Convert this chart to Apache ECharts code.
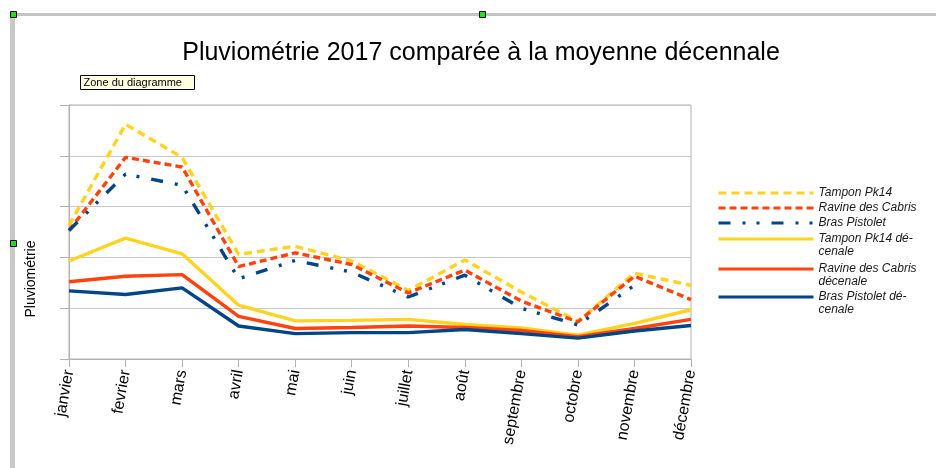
<!DOCTYPE html>
<html>
<head>
<meta charset="utf-8">
<script src="https://cdn.jsdelivr.net/npm/echarts@6/dist/echarts.min.js"></script>
<style>
html, body { margin: 0; padding: 0; background: #fff; }
#chart { width: 936px; height: 468px; }
</style>
</head>
<body>
<div id="chart"></div>
<script>
// mois
var months = ['janvier', 'fevrier', 'mars', 'avril', 'mai', 'juin', 'juillet', 'août', 'septembre', 'octobre', 'novembre', 'décembre'];

// pluviométrie 2017 (mm)
var tamponPk14 = [263, 462, 397, 206, 222, 193, 135, 195, 132, 74, 169, 145];
var ravineCabris = [253, 397, 378, 182, 209, 186, 130, 175, 114, 73, 163, 117];
var brasPistolet = [253, 364, 342, 158, 194, 171, 122, 165, 100, 67, 145, null];

// moyennes décennales
var tamponPk14Dec = [193, 238, 207, 106, 75, 76, 78, 68, 61, 47, 70, 97];
var ravineCabrisDec = [152, 163, 166, 84, 60, 62, 65, 62, 56, 44, 60, 78];
var brasPistoletDec = [134, 127, 140, 65, 50, 52, 52, 58, 50, 41, 55, 66];

var seriesNames = ['Tampon Pk14', 'Ravine des Cabris', 'Bras Pistolet',
    'Tampon Pk14 décenale', 'Ravine des Cabris décenale', 'Bras Pistolet décenale'];
var legendLabels = ['Tampon Pk14', 'Ravine des Cabris', 'Bras Pistolet',
    'Tampon Pk14 dé-\ncenale', 'Ravine des Cabris\ndécenale', 'Bras Pistolet dé-\ncenale'];

var YELLOW = '#ffd320', RED = '#ff420e', BLUE = '#004586';

var chart = echarts.init(document.getElementById('chart'), null, { renderer: 'canvas' });

function lineSeries(name, data, color, dash) {
    return {
        name: name,
        type: 'line',
        data: data,
        symbol: 'none',
        connectNulls: false,
        animation: false,
        lineStyle: { color: color, width: 3.4, type: dash || 'solid', cap: 'butt' },
        itemStyle: { color: color }
    };
}

// une légende par entrée, pour aligner le trait sur la première ligne du texte
var legendCenters = [193, 208, 223, 239, 269, 297];
var legends = seriesNames.map(function (name, i) {
    var twoLines = legendLabels[i].indexOf('\n') >= 0;
    return {
        data: [name],
        orient: 'vertical',
        left: 717,
        top: legendCenters[i] - (twoLines ? 18.75 : 6.25),
        padding: 0,
        itemWidth: 95,
        itemHeight: 10,
        itemGap: 0,
        selectedMode: false,
        itemStyle: { opacity: 0 },
        lineStyle: { width: 3 },
        formatter: function () {
            return twoLines ? '\n' + legendLabels[i] : legendLabels[i];
        },
        textStyle: {
            fontFamily: 'Liberation Sans',
            fontStyle: 'italic',
            fontSize: 12,
            lineHeight: 12.5,
            color: '#1a1a1a'
        }
    };
});

var option = {
    backgroundColor: '#fff',
    animation: false,
    title: {
        text: 'Pluviométrie 2017 comparée à la moyenne décennale',
        left: 476,
        top: 36,
        textAlign: 'center',
        textStyle: {
            fontFamily: 'Liberation Sans',
            fontWeight: 'normal',
            fontSize: 25,
            color: '#000'
        }
    },
    legend: legends,
    grid: {
        left: 69,
        right: 245,
        top: 105,
        bottom: 109,
        show: true,
        borderColor: '#b3b3b3',
        borderWidth: 1
    },
    xAxis: {
        type: 'category',
        data: months,
        boundaryGap: false,
        axisLine: { lineStyle: { color: '#b3b3b3', width: 1 } },
        axisTick: { show: true, alignWithLabel: true, length: 8, lineStyle: { color: '#b3b3b3' } },
        axisLabel: {
            rotate: 80,
            margin: 11,
            interval: 0,
            fontFamily: 'Liberation Sans',
            fontSize: 16,
            color: '#000'
        },
        splitLine: { show: false }
    },
    yAxis: {
        type: 'value',
        min: 0,
        max: 500,
        interval: 100,
        name: 'Pluviométrie',
        nameLocation: 'middle',
        nameRotate: 90,
        nameGap: 31,
        nameTextStyle: {
            fontFamily: 'Liberation Sans',
            fontSize: 14,
            color: '#000',
            padding: [0, 94, 0, 0]
        },
        axisLine: { show: true, lineStyle: { color: '#b3b3b3', width: 1 } },
        axisTick: { show: true, length: 9, lineStyle: { color: '#b3b3b3' } },
        axisLabel: { show: false },
        splitLine: { show: true, lineStyle: { color: '#c8c8c8', width: 1 } }
    },
    series: [
        lineSeries(seriesNames[0], tamponPk14, YELLOW, [8, 5]),
        lineSeries(seriesNames[1], ravineCabris, RED, [7, 4]),
        lineSeries(seriesNames[2], brasPistolet, BLUE, [12, 12, 3, 11, 3, 12]),
        lineSeries(seriesNames[3], tamponPk14Dec, YELLOW),
        lineSeries(seriesNames[4], ravineCabrisDec, RED),
        lineSeries(seriesNames[5], brasPistoletDec, BLUE)
    ],
    graphic: [
        // cadre de sélection de l'éditeur
        { type: 'rect', left: 10, top: 13, shape: { width: 926, height: 3 }, style: { fill: '#c4c4c4' }, silent: true },
        { type: 'rect', left: 10, top: 13, shape: { width: 5, height: 455 }, style: { fill: '#c8c8c8' }, silent: true },
        { type: 'rect', left: 10, top: 11, shape: { width: 6, height: 6 }, style: { fill: '#22dd22', stroke: '#000', lineWidth: 1 }, silent: true },
        { type: 'rect', left: 479, top: 11, shape: { width: 6, height: 6 }, style: { fill: '#22dd22', stroke: '#000', lineWidth: 1 }, silent: true },
        { type: 'rect', left: 10, top: 240, shape: { width: 6, height: 6 }, style: { fill: '#22dd22', stroke: '#000', lineWidth: 1 }, silent: true },
        // info-bulle
        {
            type: 'group', left: 80, top: 75, silent: true,
            children: [
                { type: 'rect', shape: { x: 0, y: 0, width: 114, height: 14 }, style: { fill: '#ffffe1', stroke: '#000', lineWidth: 1 } },
                { type: 'text', x: 3, y: 2, style: { text: 'Zone du diagramme', fontFamily: 'Liberation Sans', fontSize: 11, fill: '#000' } }
            ]
        }
    ]
};

chart.setOption(option);
</script>
</body>
</html>
